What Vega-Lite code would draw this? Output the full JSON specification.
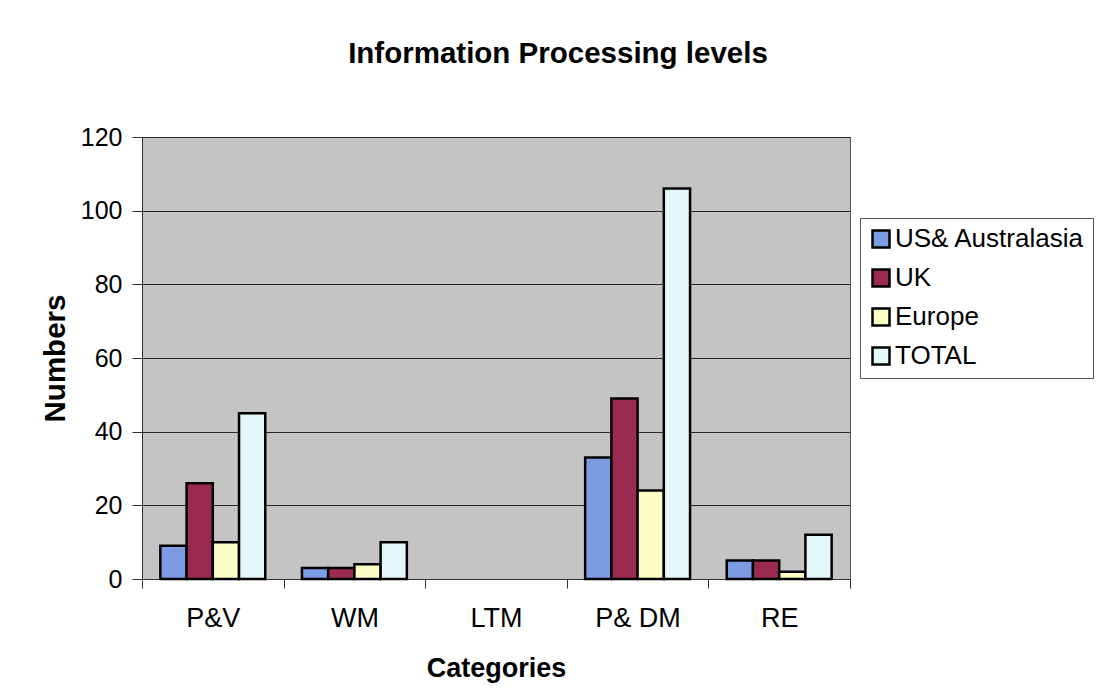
{
  "$schema": "https://vega.github.io/schema/vega-lite/v6.json",
  "autosize": "none",
  "width": 708,
  "height": 442,
  "padding": {"left": 142, "top": 137, "right": 247, "bottom": 120},
  "background": "white",
  "title": {
    "text": "Information Processing levels",
    "font": "Liberation Sans",
    "fontSize": 29.5,
    "fontWeight": "bold",
    "color": "black",
    "anchor": "middle",
    "frame": "group",
    "dx": 62,
    "offset": 56
  },
  "config": {
    "view": {"fill": "#c4c4c4", "stroke": "#555555", "strokeWidth": 1},
    "font": "Liberation Sans"
  },
  "data": {
    "values": [
      {"cat": "P&V", "region": "US& Australasia", "n": 9},
      {"cat": "P&V", "region": "UK", "n": 26},
      {"cat": "P&V", "region": "Europe", "n": 10},
      {"cat": "P&V", "region": "TOTAL", "n": 45},
      {"cat": "WM", "region": "US& Australasia", "n": 3},
      {"cat": "WM", "region": "UK", "n": 3},
      {"cat": "WM", "region": "Europe", "n": 4},
      {"cat": "WM", "region": "TOTAL", "n": 10},
      {"cat": "LTM", "region": "US& Australasia", "n": 0},
      {"cat": "LTM", "region": "UK", "n": 0},
      {"cat": "LTM", "region": "Europe", "n": 0},
      {"cat": "LTM", "region": "TOTAL", "n": 0},
      {"cat": "P& DM", "region": "US& Australasia", "n": 33},
      {"cat": "P& DM", "region": "UK", "n": 49},
      {"cat": "P& DM", "region": "Europe", "n": 24},
      {"cat": "P& DM", "region": "TOTAL", "n": 106},
      {"cat": "RE", "region": "US& Australasia", "n": 5},
      {"cat": "RE", "region": "UK", "n": 5},
      {"cat": "RE", "region": "Europe", "n": 2},
      {"cat": "RE", "region": "TOTAL", "n": 12}
    ]
  },
  "transform": [{"filter": "datum.n > 0"}],
  "mark": {"type": "bar", "stroke": "black", "strokeWidth": 2.5},
  "encoding": {
    "x": {
      "field": "cat",
      "type": "nominal",
      "sort": ["P&V", "WM", "LTM", "P& DM", "RE"],
      "scale": {"domain": ["P&V", "WM", "LTM", "P& DM", "RE"], "paddingInner": 0, "paddingOuter": 0},
      "axis": {
        "title": "Categories",
        "titleFontSize": 27,
        "titleFontWeight": "bold",
        "titleColor": "black",
        "titlePadding": 24,
        "labelAngle": 0,
        "labelFontSize": 27,
        "labelColor": "black",
        "labelPadding": 17,
        "tickBand": "extent",
        "tickColor": "#333333",
        "tickSize": 9,
        "domainColor": "#333333",
        "grid": false
      }
    },
    "xOffset": {
      "field": "region",
      "type": "nominal",
      "sort": ["US& Australasia", "UK", "Europe", "TOTAL"],
      "scale": {"domain": ["US& Australasia", "UK", "Europe", "TOTAL"], "paddingInner": 0, "paddingOuter": 0.7}
    },
    "y": {
      "field": "n",
      "type": "quantitative",
      "scale": {"domain": [0, 120], "nice": false},
      "axis": {
        "title": "Numbers",
        "titleFontSize": 29.5,
        "titleFontWeight": "bold",
        "titleColor": "black",
        "titlePadding": 10,
        "values": [0, 20, 40, 60, 80, 100, 120],
        "labelFontSize": 25,
        "labelColor": "black",
        "labelPadding": 10,
        "tickColor": "#333333",
        "tickSize": 10,
        "domainColor": "#333333",
        "gridColor": "#2a2a2a",
        "gridWidth": 1.2,
        "gridOpacity": 1
      }
    },
    "color": {
      "field": "region",
      "type": "nominal",
      "sort": ["US& Australasia", "UK", "Europe", "TOTAL"],
      "scale": {
        "domain": ["US& Australasia", "UK", "Europe", "TOTAL"],
        "range": ["#7b9be3", "#9a2a52", "#fdfdc6", "#e4f8fb"]
      },
      "legend": {
        "title": null,
        "orient": "none",
        "legendX": 718,
        "legendY": 81,
        "symbolType": "square",
        "symbolSize": 289,
        "symbolStrokeColor": "black",
        "symbolStrokeWidth": 2.5,
        "symbolOffset": 0,
        "labelOffset": 1,
        "labelFontSize": 26,
        "labelColor": "black",
        "labelLimit": 300,
        "rowPadding": 11,
        "padding": 8,
        "strokeColor": "#555555",
        "fillColor": "white",
        "symbolOpacity": 1
      }
    }
  }
}
